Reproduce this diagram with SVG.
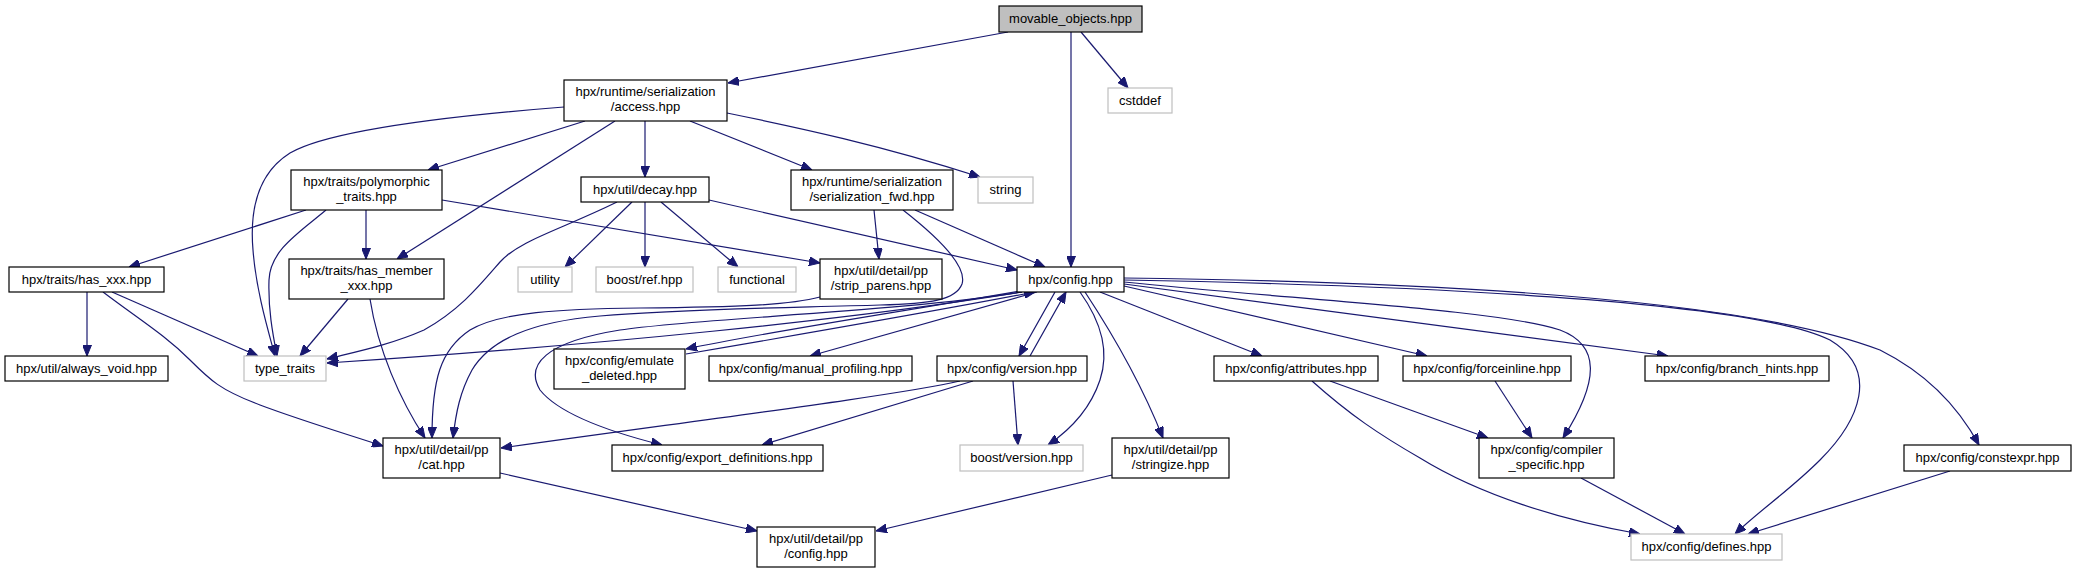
<svg xmlns="http://www.w3.org/2000/svg" width="2077" height="573" viewBox="0 0 2077 573">
<defs>
<marker id="ah" markerWidth="11" markerHeight="9" refX="11" refY="4.5" orient="auto" markerUnits="userSpaceOnUse"><path d="M0,0 L11,4.5 L0,9 z" fill="#191970" stroke="#191970" stroke-width="1"/></marker>
</defs>
<style>
rect{fill:#fff;stroke:#000;stroke-width:1.2}
.g rect{stroke:#bfbfbf}
.cur rect{fill:#bfbfbf;stroke:#000}
text{font-family:"Liberation Sans",Arial,sans-serif;font-size:13px;text-anchor:middle;fill:#000}
#edges path{fill:none;stroke:#191970;stroke-width:1.2;marker-end:url(#ah)}
</style>
<rect x="0" y="0" width="2077" height="573" style="fill:#fff;stroke:none"/>
<g id="edges">
<path d="M1008,32 L728,83"/>
<path d="M1071,32 L1071,267"/>
<path d="M1081,32 L1128,88"/>
<path d="M564,107 C450,116 330,130 290,153 C255,175 250,215 253,250 C256,290 268,330 275,356"/>
<path d="M326,210 C300,232 270,250 269,280 C268,310 273,335 277,356"/>
<path d="M585,121 L428,170"/>
<path d="M615,121 L397,259"/>
<path d="M645,121 L645,177"/>
<path d="M690,121 L812,170"/>
<path d="M727,113 C800,128 880,145 980,177"/>
<path d="M306,210 L129,267"/>
<path d="M366,210 L366,259"/>
<path d="M442,200 L820,263"/>
<path d="M617,202 C560,230 520,240 500,262 C480,285 460,310 424,330 C390,345 355,352 327,359"/>
<path d="M632,202 L565,267"/>
<path d="M645,202 L645,267"/>
<path d="M661,202 L738,267"/>
<path d="M709,200 L1017,270"/>
<path d="M874,210 L879,259"/>
<path d="M915,210 L1045,267"/>
<path d="M903,210 C935,235 968,265 962,284 C956,300 930,304 880,305 C780,308 680,309 600,316 C530,322 490,340 472,370 C460,392 456,412 453,438"/>
<path d="M820,297 C790,305 740,307 640,308 C560,309 500,312 470,330 C440,350 432,380 432,438"/>
<path d="M1022,292 C850,320 600,345 327,363"/>
<path d="M1022,292 C900,312 700,318 620,330 C545,342 525,365 540,390 C560,415 610,432 662,445"/>
<path d="M1020,291 C900,312 760,333 686,349"/>
<path d="M686,354 C780,338 920,314 1035,292"/>
<path d="M1037,292 L810,356"/>
<path d="M1055,292 L1019,356"/>
<path d="M1030,356 L1066,292"/>
<path d="M1080,292 C1100,320 1110,350 1100,380 C1090,410 1070,430 1048,445"/>
<path d="M1013,381 L1018,445"/>
<path d="M1085,292 C1110,330 1140,380 1163,438"/>
<path d="M1100,292 L1262,356"/>
<path d="M1124,286 L1427,356"/>
<path d="M1124,284 L1668,356"/>
<path d="M1124,282 C1300,300 1500,310 1560,330 C1600,345 1600,380 1563,438"/>
<path d="M1124,280 C1400,285 1750,300 1830,340 C1880,370 1860,420 1820,460 C1790,490 1760,510 1735,534"/>
<path d="M1124,278 C1450,282 1750,300 1880,350 C1930,375 1960,410 1979,445"/>
<path d="M1330,381 L1488,438"/>
<path d="M1312,381 C1350,415 1380,435 1420,458 C1480,495 1560,520 1640,534"/>
<path d="M1495,381 L1532,438"/>
<path d="M1581,478 L1685,534"/>
<path d="M1950,471 L1748,534"/>
<path d="M1112,475 L876,531"/>
<path d="M500,473 L757,531"/>
<path d="M960,381 C900,395 700,420 501,448"/>
<path d="M973,381 L762,445"/>
<path d="M87,292 L87,356"/>
<path d="M112,292 L258,356"/>
<path d="M103,292 C140,320 165,335 190,360 C210,380 220,390 260,405 C300,420 340,432 383,446"/>
<path d="M348,299 L300,356"/>
<path d="M370,299 C378,350 400,400 425,438"/>
</g>
<g id="movable_objects" class="cur"><rect x="999" y="6" width="143" height="26"/><text x="1070.5" y="23">movable_objects.hpp</text></g>
<g id="access"><rect x="564" y="80" width="163" height="41"/><text x="645.5" y="96">hpx/runtime/serialization</text><text x="645.5" y="111">/access.hpp</text></g>
<g id="cstddef" class="g"><rect x="1108" y="88" width="64" height="25"/><text x="1140" y="105">cstddef</text></g>
<g id="polymorphic_traits"><rect x="291" y="170" width="151" height="40"/><text x="366.5" y="186">hpx/traits/polymorphic</text><text x="366.5" y="201">_traits.hpp</text></g>
<g id="decay"><rect x="581" y="177" width="128" height="25"/><text x="645" y="194">hpx/util/decay.hpp</text></g>
<g id="serialization_fwd"><rect x="791" y="170" width="162" height="40"/><text x="872" y="186">hpx/runtime/serialization</text><text x="872" y="201">/serialization_fwd.hpp</text></g>
<g id="string" class="g"><rect x="978" y="177" width="55" height="26"/><text x="1005.5" y="194">string</text></g>
<g id="has_xxx"><rect x="9" y="267" width="155" height="25"/><text x="86.5" y="284">hpx/traits/has_xxx.hpp</text></g>
<g id="has_member_xxx"><rect x="289" y="259" width="155" height="40"/><text x="366.5" y="275">hpx/traits/has_member</text><text x="366.5" y="290">_xxx.hpp</text></g>
<g id="utility" class="g"><rect x="518" y="267" width="54" height="25"/><text x="545" y="284">utility</text></g>
<g id="boost_ref" class="g"><rect x="596" y="267" width="97" height="25"/><text x="644.5" y="284">boost/ref.hpp</text></g>
<g id="functional" class="g"><rect x="718" y="267" width="78" height="25"/><text x="757" y="284">functional</text></g>
<g id="strip_parens"><rect x="820" y="259" width="122" height="40"/><text x="881" y="275">hpx/util/detail/pp</text><text x="881" y="290">/strip_parens.hpp</text></g>
<g id="config"><rect x="1017" y="267" width="107" height="25"/><text x="1070.5" y="284">hpx/config.hpp</text></g>
<g id="always_void"><rect x="5" y="356" width="163" height="25"/><text x="86.5" y="373">hpx/util/always_void.hpp</text></g>
<g id="type_traits" class="g"><rect x="244" y="356" width="82" height="25"/><text x="285" y="373">type_traits</text></g>
<g id="emulate_deleted"><rect x="554" y="349" width="131" height="40"/><text x="619.5" y="365">hpx/config/emulate</text><text x="619.5" y="380">_deleted.hpp</text></g>
<g id="manual_profiling"><rect x="709" y="356" width="203" height="25"/><text x="810.5" y="373">hpx/config/manual_profiling.hpp</text></g>
<g id="version"><rect x="937" y="356" width="150" height="25"/><text x="1012" y="373">hpx/config/version.hpp</text></g>
<g id="attributes"><rect x="1214" y="356" width="164" height="25"/><text x="1296" y="373">hpx/config/attributes.hpp</text></g>
<g id="forceinline"><rect x="1403" y="356" width="168" height="25"/><text x="1487" y="373">hpx/config/forceinline.hpp</text></g>
<g id="branch_hints"><rect x="1645" y="356" width="184" height="25"/><text x="1737" y="373">hpx/config/branch_hints.hpp</text></g>
<g id="cat"><rect x="383" y="438" width="117" height="40"/><text x="441.5" y="454">hpx/util/detail/pp</text><text x="441.5" y="469">/cat.hpp</text></g>
<g id="export_definitions"><rect x="612" y="445" width="211" height="26"/><text x="717.5" y="462">hpx/config/export_definitions.hpp</text></g>
<g id="boost_version" class="g"><rect x="960" y="445" width="123" height="26"/><text x="1021.5" y="462">boost/version.hpp</text></g>
<g id="stringize"><rect x="1112" y="438" width="117" height="40"/><text x="1170.5" y="454">hpx/util/detail/pp</text><text x="1170.5" y="469">/stringize.hpp</text></g>
<g id="compiler_specific"><rect x="1479" y="438" width="135" height="40"/><text x="1546.5" y="454">hpx/config/compiler</text><text x="1546.5" y="469">_specific.hpp</text></g>
<g id="constexpr"><rect x="1904" y="445" width="167" height="26"/><text x="1987.5" y="462">hpx/config/constexpr.hpp</text></g>
<g id="pp_config"><rect x="757" y="527" width="118" height="40"/><text x="816" y="543">hpx/util/detail/pp</text><text x="816" y="558">/config.hpp</text></g>
<g id="defines" class="g"><rect x="1631" y="534" width="151" height="26"/><text x="1706.5" y="551">hpx/config/defines.hpp</text></g>
</svg>
